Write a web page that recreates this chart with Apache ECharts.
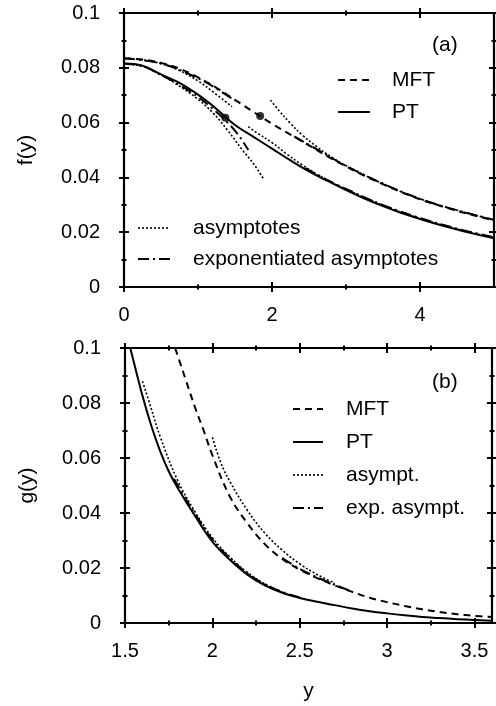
<!DOCTYPE html>
<html><head><meta charset="utf-8">
<script src="https://cdn.jsdelivr.net/npm/echarts@6/dist/echarts.min.js"></script>
<style>html,body{margin:0;padding:0;background:#fff}#c{width:496px;height:706px}</style>
</head><body><div id="c"></div>
<script>
// ---------- panel (a): f(y) ----------
const fX    = [0,0.25,0.5,0.75,1,1.25,1.5,1.75,2,2.25,2.5,2.75,3,3.25,3.5,3.75,4,4.25,4.5,4.75,5];
const fMFT  = [0.0835,0.0830,0.0818,0.0797,0.0765,0.0727,0.0683,0.0639,0.0596,0.0556,0.0517,0.0477,0.0440,0.0406,0.0375,0.0346,0.0320,0.0298,0.0278,0.0260,0.0243];
const fPT   = [0.0816,0.0808,0.0776,0.0745,0.0702,0.0650,0.0591,0.0548,0.0505,0.0462,0.0422,0.0387,0.0354,0.0323,0.0295,0.0270,0.0248,0.0228,0.0210,0.0193,0.0178];
// asymptotes (dotted)
const fAsPTsmallX  = [0,0.25,0.5,0.75,1,1.2,1.4,1.6,1.75,1.88];
const fAsPTsmallY  = [0.0814,0.0805,0.0774,0.0733,0.0685,0.0636,0.0572,0.0500,0.0450,0.0397];
const fAsMFTsmallX = [0,0.25,0.5,0.75,1,1.2,1.46];
const fAsMFTsmallY = [0.0835,0.0829,0.0815,0.0790,0.0752,0.0713,0.0658];
const fAsMFTlargeX = [1.98,2.1,2.25,2.4,2.6,2.8,3,3.5,4,4.5,5];
const fAsMFTlargeY = [0.0682,0.0642,0.0597,0.0557,0.0513,0.0475,0.0443,0.0377,0.0322,0.0280,0.0245];
const fAsPTlargeX  = [1.68,1.8,2,2.2,2.4,2.6,2.8,3,3.5,4,4.5,5];
const fAsPTlargeY  = [0.0585,0.0562,0.0527,0.0485,0.0447,0.0413,0.0383,0.0357,0.0298,0.0250,0.0212,0.0180];
// exponentiated asymptotes (dash-dot)
const fExPTsmallX  = [0,0.25,0.5,0.75,1,1.2,1.4,1.55,1.68];
const fExPTsmallY  = [0.0815,0.0806,0.0774,0.0738,0.0694,0.0650,0.0600,0.0553,0.0500];
const fExMFTsmallX = [0,0.5,1,1.25,1.5];
const fExMFTsmallY = [0.0834,0.0816,0.0762,0.0724,0.0680];
const fExPTlargeX  = [2.45,2.75,3,3.5,4,4.5,5];
const fExPTlargeY  = [0.0434,0.0390,0.0358,0.0299,0.0252,0.0213,0.0181];
const fExMFTlargeX = [2.3,2.5,2.75,3,3.5,4,4.5,5];
const fExMFTlargeY = [0.0550,0.0519,0.0480,0.0442,0.0377,0.0322,0.0280,0.0245];
// marked points
const fDotX = [1.37,1.84];
const fDotY = [0.0618,0.0624];

// ---------- panel (b): g(y) ----------
const gPTx  = [1.53,1.55,1.6,1.65,1.7,1.75,1.8,1.9,2,2.1,2.2,2.3,2.4,2.5,2.6,2.7,2.8,2.9,3,3.1,3.2,3.3,3.4,3.5,3.6];
const gPT   = [0.1000,0.0950,0.0826,0.0718,0.0627,0.0552,0.0493,0.0390,0.0296,0.0230,0.0176,0.0137,0.0110,0.0091,0.0077,0.0065,0.0053,0.0043,0.0035,0.0028,0.0022,0.0018,0.0014,0.0011,0.0008];
const gMFTx = [1.787,1.8,1.85,1.9,1.95,2,2.1,2.2,2.3,2.4,2.5,2.6,2.7,2.8,2.9,3,3.1,3.2,3.3,3.4,3.5,3.6];
const gMFT  = [0.1000,0.0975,0.0880,0.0785,0.0700,0.0610,0.0460,0.0363,0.0287,0.0233,0.0194,0.0163,0.0137,0.0113,0.0092,0.0076,0.0062,0.0050,0.0040,0.0032,0.0026,0.0022];
const gAsPTx  = [1.6,1.65,1.7,1.8,1.9,2,2.1,2.2,2.3,2.4];
const gAsPT   = [0.0879,0.0780,0.0680,0.0520,0.0405,0.0310,0.0240,0.0184,0.0142,0.0113];
const gAsMFTx = [2,2.05,2.1,2.2,2.3,2.4,2.5,2.6,2.7];
const gAsMFT  = [0.0675,0.0580,0.0515,0.0410,0.0327,0.0265,0.0215,0.0176,0.0145];
const gExPTx  = [1.78,1.85,1.9,2,2.1,2.2,2.3,2.4,2.5];
const gExPT   = [0.0525,0.0448,0.0398,0.0303,0.0236,0.0181,0.0141,0.0113,0.0093];
const gExMFTx = [2.4,2.5,2.6,2.7,2.8];
const gExMFT  = [0.0236,0.0197,0.0166,0.0139,0.0115];

// ---------- ticks ----------
const fXticks  = [0,2,4];
const fXminor  = [1,3];
const gXticks  = [1.5,2,2.5,3,3.5];
const gXminor  = [1.75,2.25,2.75,3.25];
const yTicks   = [0,0.02,0.04,0.06,0.08,0.1];
const yMinor   = [0.01,0.03,0.05,0.07,0.09];

const FONT = '"Liberation Sans", Arial, Helvetica, sans-serif';
const zip = (xs, ys) => xs.map((x, i) => [x, ys[i]]);
const fmt = v => String(parseFloat(Number(v).toFixed(4)));
const BLACK = '#000';

function axesFor(dim, gi, min, max, majors, minors, name, nameGap) {
  const isX = dim === 'x';
  const p1 = isX ? 'bottom' : 'left', p2 = isX ? 'top' : 'right';
  const base = {type: 'value', gridIndex: gi, min, max, splitLine: {show: false}};
  const lineOn = {show: true, onZero: false, lineStyle: {color: BLACK, width: 2.2}};
  const tickAxis = (pos, vals, len) => Object.assign({}, base, {
    position: pos, offset: -len / 2, axisLine: {show: false, onZero: false},
    axisLabel: {show: false},
    axisTick: {show: true, inside: false, customValues: vals, length: len, lineStyle: {color: BLACK, width: 2}}
  });
  const main = Object.assign({}, base, {
    position: p1, axisLine: lineOn, axisTick: {show: false},
    axisLabel: {show: true, customValues: majors, formatter: fmt, color: BLACK,
      fontSize: 20, fontFamily: FONT, margin: isX ? 18 : 24}
  });
  if (name) {
    main.name = name; main.nameLocation = 'middle'; main.nameGap = nameGap;
    main.nameTextStyle = {color: BLACK, fontSize: 21, fontFamily: FONT};
  }
  return [
    main,
    tickAxis(p1, majors, 10),
    tickAxis(p1, minors, 5),
    Object.assign({}, base, {position: p2, axisLine: lineOn, axisTick: {show: false}, axisLabel: {show: false}}),
    tickAxis(p2, majors, 10),
    tickAxis(p2, minors, 5)
  ];
}

const DASH = [7, 5], DOT = [2, 2], DASHDOT = [11, 4, 2, 4];
function line(ax, data, type, width) {
  return {
    type: 'line', xAxisIndex: ax, yAxisIndex: ax, data, symbol: 'none', showSymbol: false,
    smooth: 0.4, silent: true, animation: false,
    lineStyle: {color: BLACK, width: width || 2, type: type || 'solid', cap: 'butt', join: 'round'}
  };
}

const xAxis = [].concat(
  axesFor('x', 0, 0, 5, fXticks, fXminor),
  axesFor('x', 1, 1.5, 3.6, gXticks, gXminor, 'y', 58)
);
const yAxis = [].concat(
  axesFor('y', 0, 0, 0.1, yTicks, yMinor, 'f(y)', 87),
  axesFor('y', 1, 0, 0.1, yTicks, yMinor, 'g(y)', 87)
);

const series = [
  // panel (a)
  line(0, zip(fAsPTsmallX, fAsPTsmallY), DOT, 1.6),
  line(0, zip(fAsMFTsmallX, fAsMFTsmallY), DOT, 1.6),
  line(0, zip(fAsMFTlargeX, fAsMFTlargeY), DOT, 1.6),
  line(0, zip(fAsPTlargeX, fAsPTlargeY), DOT, 1.6),
  line(0, zip(fExPTsmallX, fExPTsmallY), DASHDOT, 2),
  line(0, zip(fExMFTsmallX, fExMFTsmallY), DASHDOT, 2),
  line(0, zip(fExPTlargeX, fExPTlargeY), DASHDOT, 2),
  line(0, zip(fExMFTlargeX, fExMFTlargeY), DASHDOT, 2),
  line(0, zip(fX, fMFT), DASH, 2),
  line(0, zip(fX, fPT), 'solid', 2),
  {type: 'scatter', xAxisIndex: 0, yAxisIndex: 0, data: zip(fDotX, fDotY), symbol: 'circle',
   symbolSize: 8, itemStyle: {color: BLACK}, silent: true, animation: false},
  // panel (b)
  line(6, zip(gAsPTx, gAsPT), DOT, 1.6),
  line(6, zip(gAsMFTx, gAsMFT), DOT, 1.6),
  line(6, zip(gExPTx, gExPT), DASHDOT, 2),
  line(6, zip(gExMFTx, gExMFT), DASHDOT, 2),
  line(6, zip(gMFTx, gMFT), DASH, 2),
  line(6, zip(gPTx, gPT), 'solid', 2)
];

function legendItem(x1, x2, y, tx, label, dash, w) {
  return [
    {type: 'line', shape: {x1, y1: y, x2, y2: y}, silent: true,
     style: {stroke: BLACK, lineWidth: w || 2, lineDash: dash || null, lineCap: 'butt'}},
    {type: 'text', x: tx, y, silent: true,
     style: {text: label, fill: BLACK, fontSize: 21, fontFamily: FONT, align: 'left', verticalAlign: 'middle'}}
  ];
}
const graphic = [].concat(
  legendItem(338, 370, 80, 392, 'MFT', DASH),
  legendItem(338, 370, 112, 392, 'PT', null),
  legendItem(138, 170, 228, 193, 'asymptotes', DOT, 1.6),
  legendItem(138, 170, 259, 193, 'exponentiated asymptotes', DASHDOT),
  legendItem(293, 323, 409, 346, 'MFT', DASH),
  legendItem(293, 323, 442, 346, 'PT', null),
  legendItem(293, 323, 475, 346, 'asympt.', DOT, 1.6),
  legendItem(293, 323, 508, 346, 'exp. asympt.', DASHDOT),
  [{type: 'text', x: 432, y: 45, silent: true,
    style: {text: '(a)', fill: BLACK, fontSize: 21, fontFamily: FONT, verticalAlign: 'middle'}},
   {type: 'text', x: 432, y: 382, silent: true,
    style: {text: '(b)', fill: BLACK, fontSize: 21, fontFamily: FONT, verticalAlign: 'middle'}}]
);

const chart = echarts.init(document.getElementById('c'), null, {renderer: 'canvas'});
chart.setOption({
  backgroundColor: '#fff',
  animation: false,
  grid: [
    {left: 124, top: 13, width: 370, height: 274},
    {left: 125, top: 348, width: 367, height: 275}
  ],
  xAxis, yAxis, series, graphic
});
</script></body></html>
